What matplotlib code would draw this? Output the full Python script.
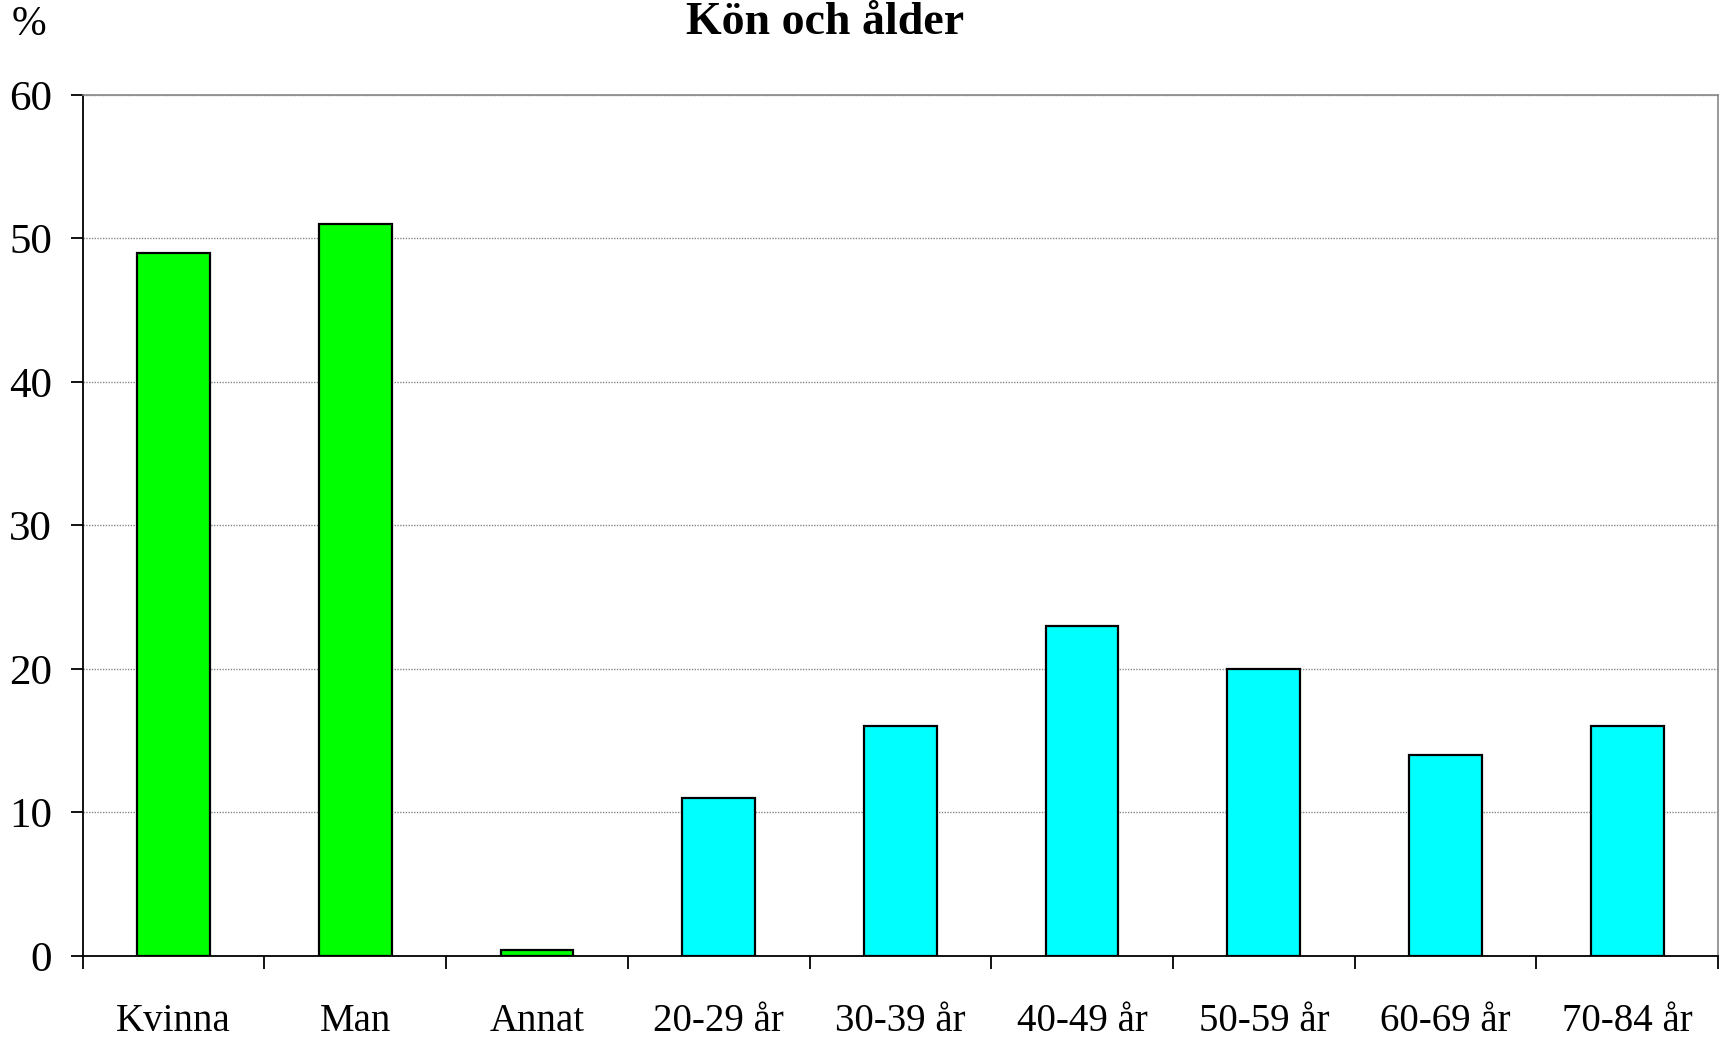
import matplotlib.pyplot as plt
import numpy as np

plt.rcParams['font.family'] = 'Liberation Serif'

# kategorier och värden (%)
categories = ['Kvinna', 'Man', 'Annat', '20-29 år', '30-39 år',
              '40-49 år', '50-59 år', '60-69 år', '70-84 år']
values = [49, 51, 0.4, 11, 16, 23, 20, 14, 16]
colors = ['#00ff00'] * 3 + ['#00ffff'] * 6

fig = plt.figure(figsize=(17.29, 10.38), dpi=100)
ax = fig.add_axes([0.0478, 0.079, 0.9459, 0.8295])

x = np.arange(len(categories))
ax.bar(x, values, 0.4, color=colors, edgecolor='black', linewidth=1.6, zorder=3)

ax.set_xlim(-0.5, len(categories) - 0.5)
ax.set_ylim(0, 60)
ax.set_yticks(range(0, 61, 10))
ax.tick_params(axis='y', labelsize=31, length=9, width=1.3, direction='out', pad=13)

# etiketter i mitten, streck mellan kategorierna
ax.set_xticks(x)
ax.set_xticklabels(categories)
ax.tick_params(axis='x', which='major', length=0, labelsize=28, pad=34)
ax.set_xticks(np.arange(-0.5, len(categories)), minor=True)
ax.tick_params(axis='x', which='minor', length=9, width=1.3, direction='out')

ax.yaxis.grid(True, linestyle=(0, (1, 1)), color='#888888', linewidth=1, zorder=0)
ax.spines['top'].set_color('#888888')
ax.spines['right'].set_color('#888888')
ax.spines['top'].set_linewidth(1.2)
ax.spines['right'].set_linewidth(1.2)
ax.spines['left'].set_linewidth(1.3)
ax.spines['bottom'].set_linewidth(1.3)

fig.text(0.4774, 0.978, 'Kön och ålder', fontsize=33, fontweight='bold',
         ha='center', va='center')
fig.text(0.0166, 0.976, '%', fontsize=30, ha='center', va='center')

fig.savefig('out.png', dpi=100)
